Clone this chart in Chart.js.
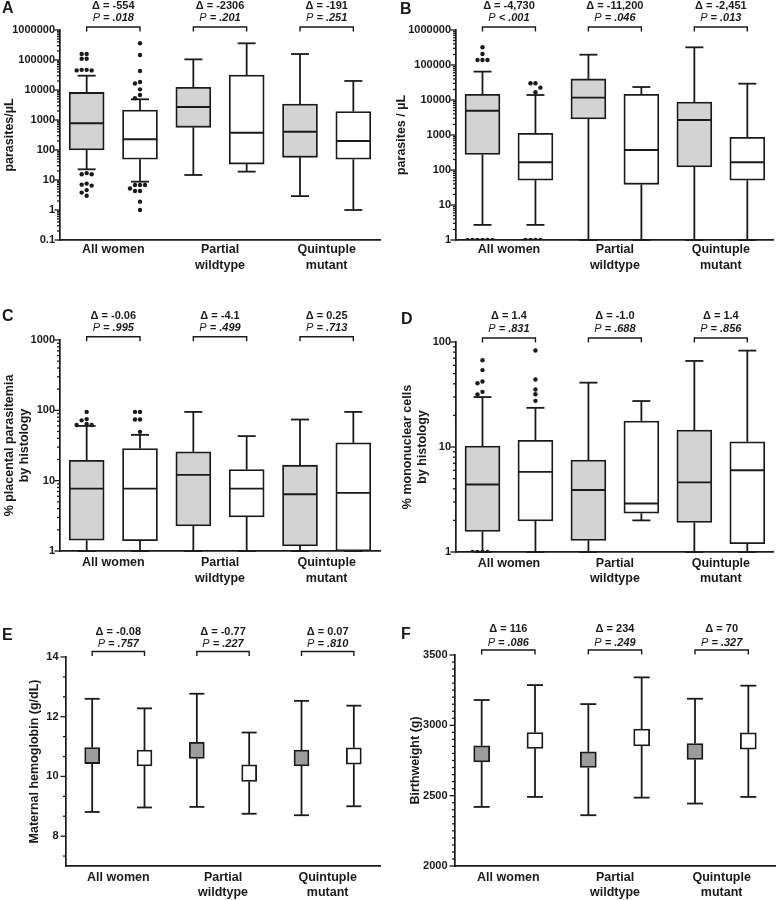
<!DOCTYPE html>
<html>
<head>
<meta charset="utf-8">
<title>Parasite density, histology and outcomes</title>
<script src="https://cdn.jsdelivr.net/npm/chart.js@4.4.1/dist/chart.umd.min.js"></script>
<style>
  body { margin: 0; background: #fff; }
  #fig { position: relative; width: 776px; height: 900px; }
  #fig canvas { position: absolute; }
</style>
</head>
<body>
<div id="fig">
  <canvas id="pA" width="388" height="300" style="left:0;top:0"></canvas>
  <canvas id="pB" width="388" height="300" style="left:388px;top:0"></canvas>
  <canvas id="pC" width="388" height="300" style="left:0;top:300px"></canvas>
  <canvas id="pD" width="388" height="300" style="left:388px;top:300px"></canvas>
  <canvas id="pE" width="388" height="300" style="left:0;top:600px"></canvas>
  <canvas id="pF" width="388" height="300" style="left:388px;top:600px"></canvas>
</div>
<script>
const FONT = '"Liberation Sans", Arial, Helvetica, sans-serif';
const INK = '#1a1a1a';

const groupLabels = [['All women'], ['Partial', 'wildtype'], ['Quintuple', 'mutant']];

// box stats per group: [min, q1, median, q3, max]
const aGray = [[22.7, 100, 780, 8300, 30000], [14.7, 570, 2700, 12300, 105000], [2.9, 57, 408, 3400, 158000]];
const aWhite = [[8.8, 49, 227, 2150, 4900], [19, 34, 378, 31600, 360000], [1, 49, 200, 1900, 20000]];
const aGrayOut = [[160000, 160000, 110000, 110000, 47000, 45000, 45000, 47000, 17, 15.5, 15.5, 7.6, 7.0, 6.5, 4.6, 3.8, 3.0], [], []];
const aWhiteOut = [[360000, 147000, 43000, 18500, 16500, 10500, 6800, 5300, 6.8, 6.8, 6.8, 5.2, 4.3, 4.3, 1.9, 1.0], [], []];
const aDelta = ['-554', '-2306', '-191'];
const aP = ['= .018', '= .201', '= .251'];
const aTicks = [0.1, 1, 10, 100, 1000, 10000, 100000, 1000000];

const bGray = [[2.7, 280, 4950, 14500, 64700], [1, 2870, 11700, 40000, 197000], [1, 122, 2680, 8770, 320000]];
const bWhite = [[2.7, 51, 166, 1120, 13900], [1, 39, 373, 14500, 23500], [1, 51, 166, 857, 29300]];
const bGrayOut = [[320000, 206000, 139000, 139000, 139000, 1, 1, 1, 1, 1, 1], [], []];
const bWhiteOut = [[30000, 30000, 22500, 16600, 1, 1, 1, 1], [], []];
const bDelta = ['-4,730', '-11,200', '-2,451'];
const bP = ['< .001', '= .046', '= .013'];
const bTicks = [1, 10, 100, 1000, 10000, 100000, 1000000];

const cGray = [[1, 1.42, 7.7, 19.5, 60], [1, 2.27, 12.1, 25.7, 95], [1, 1.18, 6.4, 16.6, 74]];
const cWhite = [[1, 1.4, 7.7, 28.6, 44.8], [1, 3.05, 7.7, 14.4, 43], [1, 1, 6.7, 34.5, 95]];
const cGrayOut = [[95, 75, 72, 64, 62, 62], [], []];
const cWhiteOut = [[95, 95, 74, 74, 49.4], [], []];
const cDelta = ['-0.06', '-4.1', '0.25'];
const cP = ['= .995', '= .499', '= .713'];
const cTicks = [1, 10, 100, 1000];

const dGray = [[1, 1.57, 4.39, 10.2, 29.9], [1, 1.29, 3.9, 7.5, 41], [1, 1.91, 4.6, 14.5, 66]];
const dWhite = [[1, 1.98, 5.8, 11.6, 23.6], [2.0, 2.34, 2.9, 17.7, 27.4], [1, 1.2, 6.0, 11.2, 82.8]];
const dGrayOut = [[67, 54, 42, 40.5, 33.5, 31.6, 1, 1, 1, 1], [], []];
const dWhiteOut = [[83, 44, 35.3, 31.8, 27.5], [], []];
const dDelta = ['1.4', '-1.0', '1.4'];
const dP = ['= .831', '= .688', '= .856'];
const dTicks = [1, 10, 100];

// E and F: [low whisker, box low, (no median), box high, high whisker]
const eGray = [[8.81, 10.43, null, 10.97, 12.6], [8.98, 10.6, null, 11.14, 12.77], [8.70, 10.35, null, 10.88, 12.53]];
const eWhite = [[8.96, 10.35, null, 10.88, 12.28], [8.75, 9.83, null, 10.39, 11.47], [9.0, 10.41, null, 10.96, 12.37]];
const eDelta = ['-0.08', '-0.77', '0.07'];
const eP = ['= .757', '= .227', '= .810'];
const eTicks = [8, 10, 12, 14];

const fGray = [[2420, 2740, null, 2854, 3180], [2361, 2700, null, 2812, 3151], [2444, 2757, null, 2871, 3189]];
const fWhite = [[2491, 2835, null, 2949, 3286], [2486, 2854, null, 2973, 3341], [2491, 2831, null, 2947, 3282]];
const fDelta = ['116', '234', '70'];
const fP = ['= .086', '= .249', '= .327'];
const fTicks = [2000, 2500, 3000, 3500];

const none = [[], [], []];
const lightFill = '#d3d3d3';
const darkFill = '#9c9c9c';

const panels = [
  { canvas: 'pA', letter: 'A', gray: aGray, white: aWhite, grayOut: aGrayOut, whiteOut: aWhiteOut,
    delta: aDelta, p: aP, ticks: aTicks, log: true, min: 0.1, max: 1000000, title: 'parasites/\u00b5L',
    area: [60, 30, 380, 240], letterAt: [2, 9], ann: [-24, -12, -3], titlePad: 2.5, labelPad: 2.2, tickPad: 5,
    fill: lightFill, barPx: 35, cap: 18 },
  { canvas: 'pB', letter: 'B', gray: bGray, white: bWhite, grayOut: bGrayOut, whiteOut: bWhiteOut,
    delta: bDelta, p: bP, ticks: bTicks, log: true, min: 1, max: 1000000, title: 'parasites / \u00b5L',
    area: [68, 30, 387, 240], letterAt: [12, 9.5], ann: [-24, -12, -3], titlePad: 6, labelPad: 2.2, tickPad: 5,
    fill: lightFill, barPx: 35, cap: 18 },
  { canvas: 'pC', letter: 'C', gray: cGray, white: cWhite, grayOut: cGrayOut, whiteOut: cWhiteOut,
    delta: cDelta, p: cP, ticks: cTicks, log: true, min: 1, max: 1000, title: ['% placental parasitemia', 'by histology'],
    area: [60, 40, 380, 251], letterAt: [2, 17], ann: [-24, -12, -3.3], titlePad: 2.5, labelPad: 4.2, tickPad: 5,
    fill: lightFill, barPx: 35, cap: 18 },
  { canvas: 'pD', letter: 'D', gray: dGray, white: dWhite, grayOut: dGrayOut, whiteOut: dWhiteOut,
    delta: dDelta, p: dP, ticks: dTicks, log: true, min: 1, max: 100, title: ['% mononuclear cells', 'by histology'],
    area: [68, 42, 387, 252], letterAt: [13, 20], ann: [-25.7, -12.7, -4], titlePad: 12.5, labelPad: 3.5, tickPad: 5,
    fill: lightFill, barPx: 35, cap: 18 },
  { canvas: 'pE', letter: 'E', gray: eGray, white: eWhite, grayOut: none, whiteOut: none,
    delta: eDelta, p: eP, ticks: eTicks, log: false, min: 7, max: 14, minorStep: 2 / 3, title: 'Maternal hemoglobin (g/dL)',
    area: [66, 57, 380, 266], letterAt: [2, 35.5], ann: [-25.5, -13, -5.5], titlePad: 27.5, labelPad: 3.5, tickPad: 7.5,
    fill: darkFill, barPx: 15, cap: 0 },
  { canvas: 'pF', letter: 'F', gray: fGray, white: fWhite, grayOut: none, whiteOut: none,
    delta: fDelta, p: fP, ticks: fTicks, log: false, min: 2000, max: 3500, minorStep: 50, title: 'Birthweight (g)',
    area: [67, 55, 387, 266], letterAt: [13, 34.5], ann: [-25.7, -12.3, -5], titlePad: 20.5, labelPad: 3.5, tickPad: 7.5,
    fill: darkFill, barPx: 16, cap: 0 }
];

Chart.defaults.font.family = FONT;
Chart.defaults.color = INK;

const labelOf = (cfg, v) => cfg.ticks.find(t => Math.abs(t - v) <= 1e-9 * Math.max(1, Math.abs(t)));

function tickValues(cfg) {
  const out = [];
  if (cfg.log) {
    const e0 = Math.floor(Math.log10(cfg.min)), e1 = Math.round(Math.log10(cfg.max));
    for (let e = e0; e <= e1; e++) {
      for (let k = 1; k <= 9; k++) {
        const v = Number((k * Math.pow(10, e)).toPrecision(10));
        if (v >= cfg.min * 0.999 && v <= cfg.max * 1.001) out.push(v);
      }
    }
  } else {
    const s = cfg.minorStep, eps = s / 1000;
    for (let v = cfg.ticks[0] - s; v > cfg.min + eps; v -= s) out.push(v);
    for (let v = cfg.ticks[0]; v <= cfg.max + eps; v += s) out.push(v);
    out.sort((a, b) => a - b);
  }
  return out;
}

// spread overlapping outliers sideways, Prism style
function swarm(values, toPx) {
  const STEP = 5, DOT = 4.6;
  const placed = [];
  return [...values].sort((a, b) => b - a).map(v => {
    const py = toPx(v);
    for (let k = 0; k < 40; k++) {
      const dx = k === 0 ? 0 : (k % 2 ? -1 : 1) * Math.ceil(k / 2) * STEP;
      if (placed.every(q => Math.hypot(q.dx - dx, q.py - py) >= DOT)) {
        placed.push({ dx, py });
        return { v, dx };
      }
    }
    return { v, dx: 0 };
  });
}

function line(ctx, x1, y1, x2, y2) {
  ctx.beginPath();
  ctx.moveTo(x1, y1);
  ctx.lineTo(x2, y2);
  ctx.stroke();
}

function boxPlugin(cfg, tickList) {
  return {
    id: 'boxes',
    beforeDatasetsDraw(chart) {
      const { ctx } = chart;
      const y = chart.scales.y;
      ctx.save();
      ctx.strokeStyle = INK;
      ctx.lineWidth = 1.8;
      [cfg.gray, cfg.white].forEach((stats, d) => {
        chart.getDatasetMeta(d).data.forEach((bar, i) => {
          const [mn, q1, , q3, mx] = stats[i];
          const half = cfg.cap ? cfg.cap / 2 : bar.width / 2;
          const yMax = y.getPixelForValue(mx), yMin = y.getPixelForValue(mn);
          line(ctx, bar.x, y.getPixelForValue(q3), bar.x, yMax);
          line(ctx, bar.x - half, yMax, bar.x + half, yMax);
          line(ctx, bar.x, y.getPixelForValue(q1), bar.x, yMin);
          line(ctx, bar.x - half, yMin, bar.x + half, yMin);
        });
      });
      ctx.restore();
    },
    afterDatasetsDraw(chart) {
      const { ctx } = chart;
      const y = chart.scales.y;
      ctx.save();
      ctx.strokeStyle = INK;
      ctx.lineWidth = 1.9;
      [cfg.gray, cfg.white].forEach((stats, d) => {
        chart.getDatasetMeta(d).data.forEach((bar, i) => {
          const med = stats[i][2];
          if (med == null) return;
          const ym = y.getPixelForValue(med);
          line(ctx, bar.x - bar.width / 2 + 1, ym, bar.x + bar.width / 2 - 1, ym);
        });
      });
      ctx.restore();
    },
    afterDraw(chart) {
      const { ctx, chartArea: ca } = chart;
      const y = chart.scales.y;
      ctx.save();
      ctx.strokeStyle = INK;
      ctx.fillStyle = INK;

      // y tick marks, long ones for labelled values
      ctx.lineWidth = 1.3;
      tickList.forEach(v => {
        const py = y.getPixelForValue(v);
        const len = labelOf(cfg, v) !== undefined ? 5.5 : 3;
        line(ctx, ca.left - len, py, ca.left, py);
      });

      ctx.font = 'bold 16px ' + FONT;
      ctx.textBaseline = 'middle';
      ctx.textAlign = 'left';
      ctx.fillText(cfg.letter, cfg.letterAt[0], cfg.letterAt[1]);

      const [dOff, pOff, bOff] = cfg.ann;
      const g = chart.getDatasetMeta(0).data, w = chart.getDatasetMeta(1).data;
      for (let i = 0; i < g.length; i++) {
        const x1 = g[i].x, x2 = w[i].x, cx = (x1 + x2) / 2;
        ctx.font = 'bold 11px ' + FONT;
        ctx.textAlign = 'center';
        ctx.fillText('\u0394 = ' + cfg.delta[i], cx, ca.top + dOff);

        const pFont = 'italic 11px ' + FONT, rFont = 'bold italic 11px ' + FONT;
        const rest = ' ' + cfg.p[i];
        ctx.font = pFont;
        const pw = ctx.measureText('P').width;
        ctx.font = rFont;
        const rw = ctx.measureText(rest).width;
        const px = cx - (pw + rw) / 2;
        ctx.textAlign = 'left';
        ctx.font = pFont;
        ctx.fillText('P', px, ca.top + pOff);
        ctx.font = rFont;
        ctx.fillText(rest, px + pw, ca.top + pOff);

        const by = ca.top + bOff;
        ctx.lineWidth = 1.4;
        ctx.beginPath();
        ctx.moveTo(x1, by + 4.5);
        ctx.lineTo(x1, by);
        ctx.lineTo(x2, by);
        ctx.lineTo(x2, by + 4.5);
        ctx.stroke();
      }
      ctx.restore();
    }
  };
}

function makeChart(cfg) {
  const W = 388, H = 300;
  const [L, T, R, B] = cfg.area;
  const lo = cfg.log ? Math.log10(cfg.min) : cfg.min;
  const hi = cfg.log ? Math.log10(cfg.max) : cfg.max;
  const pxPerUnit = (B - T) / (hi - lo);
  const catPx = (R - L) / groupLabels.length;
  const toPx = v => (cfg.log ? Math.log10(v) : v) * pxPerUnit;
  const outliers = (lists, side) => lists.flatMap((vals, i) =>
    swarm(vals, toPx).map(p => ({ x: i + side + p.dx / catPx, y: p.v })));
  const tickList = tickValues(cfg);

  const boxSet = (stats, fill, side) => ({
    data: stats.map((s, i) => ({ x: i + side, y: [s[1], s[3]] })),
    backgroundColor: fill,
    borderColor: INK,
    borderWidth: 1.8,
    borderSkipped: false,
    barThickness: cfg.barPx,
    grouped: false
  });
  const dotSet = pts => ({
    type: 'scatter',
    data: pts,
    pointRadius: 2.2,
    pointHoverRadius: 2.2,
    backgroundColor: INK,
    borderWidth: 0
  });

  return new Chart(document.getElementById(cfg.canvas), {
    type: 'bar',
    data: {
      datasets: [
        boxSet(cfg.gray, cfg.fill, -0.25),
        boxSet(cfg.white, '#ffffff', 0.25),
        dotSet(outliers(cfg.grayOut, -0.25)),
        dotSet(outliers(cfg.whiteOut, 0.25))
      ]
    },
    options: {
      responsive: false,
      animation: false,
      events: [],
      layout: { padding: { left: 0, top: T, right: W - R, bottom: 0 } },
      plugins: { legend: { display: false }, tooltip: { enabled: false } },
      scales: {
        x: {
          type: 'linear',
          min: -0.5,
          max: 2.5,
          offset: false,
          grid: { display: true, offset: false, drawOnChartArea: false, drawTicks: false },
          border: { color: INK, width: 1.7 },
          ticks: {
            color: INK, padding: cfg.labelPad, autoSkip: false, maxRotation: 0,
            font: { size: 12.5, weight: 'bold', lineHeight: 1.25 },
            callback: v => groupLabels[Math.round(v)]
          },
          afterBuildTicks: s => { s.ticks = groupLabels.map((_, i) => ({ value: i })); },
          afterFit: s => { s.height = H - B; }
        },
        y: {
          type: cfg.log ? 'logarithmic' : 'linear',
          min: cfg.min,
          max: cfg.max,
          grid: { display: true, drawOnChartArea: false, drawTicks: false },
          border: { color: INK, width: 1.7 },
          ticks: {
            color: INK, padding: cfg.tickPad, autoSkip: false,
            font: { size: 11, weight: 'bold' },
            callback: v => {
              const t = labelOf(cfg, v);
              return t === undefined ? '' : String(t);
            }
          },
          title: {
            display: true, text: cfg.title, color: INK,
            font: { size: 12.5, weight: 'bold', lineHeight: 1.2 },
            padding: { top: cfg.titlePad, bottom: 0 }
          },
          afterBuildTicks: s => { s.ticks = tickList.map(v => ({ value: v })); },
          afterFit: s => { s.width = L; }
        }
      }
    },
    plugins: [boxPlugin(cfg, tickList)]
  });
}

panels.forEach(makeChart);
</script>
</body>
</html>
